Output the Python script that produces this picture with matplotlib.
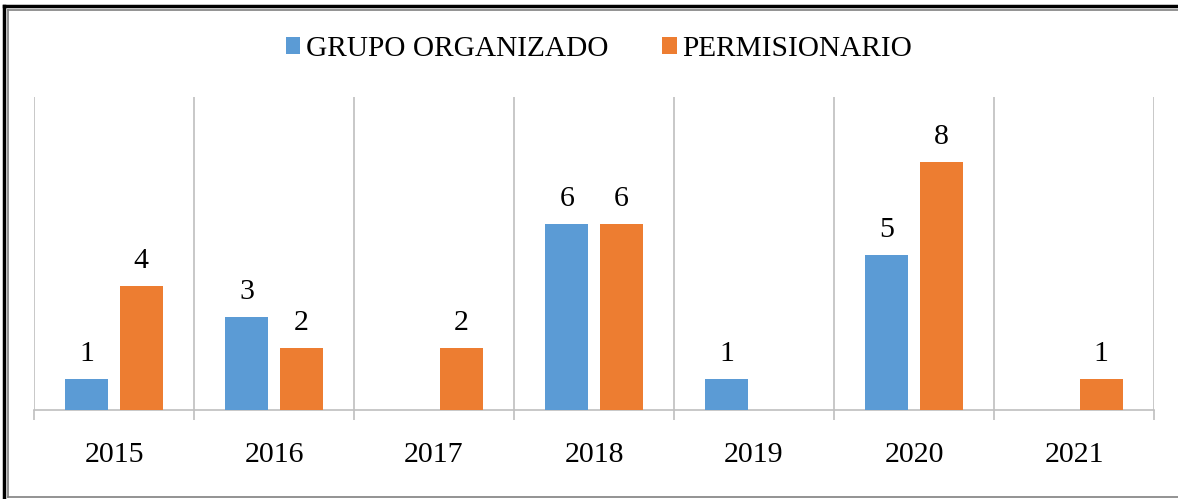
import matplotlib.pyplot as plt
import numpy as np
from matplotlib.lines import Line2D

plt.rcParams['font.family'] = ['Liberation Serif', 'DejaVu Serif']

years = ['2015', '2016', '2017', '2018', '2019', '2020', '2021']
grupo = [1, 3, 0, 6, 1, 5, 0]
permisionario = [4, 2, 2, 6, 0, 8, 1]

blue = '#5B9BD5'
orange = '#ED7D31'
grid = '#BFBFBF'

fig = plt.figure(figsize=(11.78, 4.99), dpi=100)
ax = fig.add_axes([34 / 1178, 1 - 410 / 499, 1120 / 1178, 313 / 499])

x = np.arange(len(years))
w = 0.27
off = 0.17
b1 = ax.bar(x - off, grupo, w, color=blue, label='GRUPO ORGANIZADO', zorder=3)
b2 = ax.bar(x + off, permisionario, w, color=orange, label='PERMISIONARIO', zorder=3)

for bars, vals in [(b1, grupo), (b2, permisionario)]:
    for rect, v in zip(bars, vals):
        if v == 0:
            continue
        ax.annotate(str(v), (rect.get_x() + rect.get_width() / 2, v),
                    xytext=(0, 9), textcoords='offset points',
                    ha='center', va='bottom', fontsize=21.5)

ax.set_xlim(-0.5, len(years) - 0.5)
ax.set_ylim(0, 10.1)
ax.set_yticks([])
ax.set_xticks(x)
ax.set_xticklabels(years, fontsize=21.5)
ax.tick_params(axis='x', which='major', length=0, pad=23)
ax.set_xticks(np.arange(-0.5, len(years)), minor=True)
ax.tick_params(axis='x', which='minor', length=7.5, width=1.2, color=grid)
for b in np.arange(-0.5, len(years)):
    ax.axvline(b, color=grid, lw=1.2, zorder=1)
for s in ['top', 'right', 'left']:
    ax.spines[s].set_visible(False)
ax.spines['bottom'].set_color(grid)
ax.spines['bottom'].set_linewidth(1.2)

fig.legend(loc='center', bbox_to_anchor=(0.5 + 10 / 1178, 1 - 49 / 499), ncol=2,
           frameon=False, fontsize=21.2, handlelength=0.5, handleheight=0.5,
           handletextpad=0.2, columnspacing=1.8)

# frame around the picture
fig.add_artist(Line2D([4 / 1178, 4 / 1178], [0, 1 - 6 / 499], transform=fig.transFigure, color='black', lw=2.5))
fig.add_artist(Line2D([4 / 1178, 1], [1 - 6 / 499, 1 - 6 / 499], transform=fig.transFigure, color='black', lw=2.5))
fig.add_artist(Line2D([8 / 1178, 8 / 1178], [2 / 499, 1 - 10 / 499], transform=fig.transFigure, color='#808080', lw=1.2))
fig.add_artist(Line2D([8 / 1178, 1], [1 - 10 / 499, 1 - 10 / 499], transform=fig.transFigure, color='#808080', lw=1.2))
fig.add_artist(Line2D([8 / 1178, 1], [2 / 499, 2 / 499], transform=fig.transFigure, color='#808080', lw=1.2))

fig.savefig('out.png', dpi=100)
